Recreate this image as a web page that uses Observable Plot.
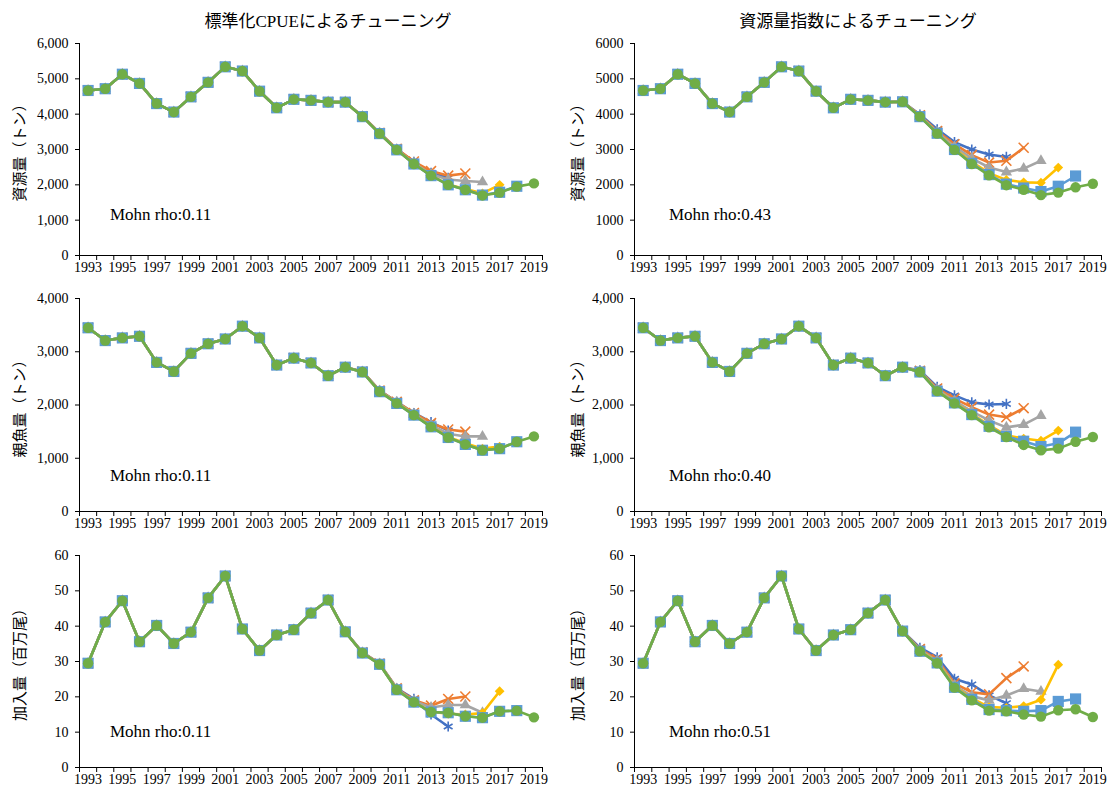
<!DOCTYPE html>
<html><head><meta charset="utf-8">
<script src="https://cdn.jsdelivr.net/npm/d3@7"></script>
<script src="https://cdn.jsdelivr.net/npm/@observablehq/plot@0.6"></script>
<style>
body{margin:0;background:#fff;}
#chart{position:relative;width:1109px;height:789px;font-family:"Liberation Serif","Noto Sans CJK JP",serif;color:#000;overflow:hidden;}
.panel{position:absolute;}
.title{position:absolute;font-size:17px;line-height:20px;white-space:nowrap;transform:translateX(-50%);}
.ylab{position:absolute;font-size:15px;line-height:16px;white-space:nowrap;transform:translate(-50%,-50%) rotate(-90deg);}
.mohn{position:absolute;font-size:17px;line-height:20px;white-space:nowrap;transform:translateY(-50%);}
</style></head>
<body><div id="chart"></div>
<script>
// ---- categories ----
const years = [1993,1994,1995,1996,1997,1998,1999,2000,2001,2002,2003,2004,2005,2006,2007,2008,2009,2010,2011,2012,2013,2014,2015,2016,2017,2018,2019];
const yearLabels = [1993,1995,1997,1999,2001,2003,2005,2007,2009,2011,2013,2015,2017,2019];
const tailStart = 2009;
const runEnds = [2014,2015,2016,2017,2018,2019];
const runColors = ["#4472C4","#ED7D31","#A5A5A5","#FFC000","#5B9BD5","#70AD47"];
const runSymbols = ["asterisk","times","triangle","diamond2","square","circle"];

const titles = ["標準化CPUEによるチューニング","資源量指数によるチューニング"];
const yLabels = ["資源量（トン）","親魚量（トン）","加入量（百万尾）"];
const mohnLeft = ["Mohn rho:0.11","Mohn rho:0.11","Mohn rho:0.11"];
const mohnRight = ["Mohn rho:0.43","Mohn rho:0.40","Mohn rho:0.51"];

const bioTicks = [0,1000,2000,3000,4000,5000,6000];
const ssbTicks = [0,1000,2000,3000,4000];
const recTicks = [0,10,20,30,40,50,60];

// ---- biomass, CPUE tuning ----
const bioCpue2019 = [4670,4720,5130,4870,4300,4060,4490,4900,5340,5220,4650,4180,4420,4390,4340,4340,3930,3450,2990,2590,2260,2000,1860,1700,1780,1950,2040];
const bioCpue2014 = [3940,3470,3010,2650,2340,2200];
const bioCpue2015 = [3940,3470,3020,2660,2390,2260,2320];
const bioCpue2016 = [3930,3460,3000,2620,2300,2150,2110,2080];
const bioCpue2017 = [3930,3450,2990,2600,2270,2010,1880,1760,2000];
const bioCpue2018 = [3930,3450,2990,2590,2260,2000,1860,1710,1790,1960];
// ---- biomass, index tuning ----
const bioIdx2019 = [4670,4720,5130,4870,4300,4060,4490,4900,5340,5220,4650,4180,4420,4390,4340,4350,3930,3450,2990,2590,2270,1990,1860,1710,1780,1930,2030];
const bioIdx2014 = [3990,3570,3210,3000,2860,2790];
const bioIdx2015 = [3970,3520,3150,2840,2630,2680,3050];
const bioIdx2016 = [3950,3490,3080,2750,2490,2360,2460,2680];
const bioIdx2017 = [3940,3470,3020,2650,2330,2140,2070,2060,2490];
const bioIdx2018 = [3930,3460,3000,2610,2290,2020,1910,1810,1960,2250];
// ---- SSB, CPUE tuning ----
const ssbCpue2019 = [3450,3210,3260,3290,2800,2630,2970,3150,3240,3480,3260,2750,2880,2790,2550,2710,2620,2250,2030,1810,1590,1390,1260,1150,1180,1310,1410];
const ssbCpue2014 = [2630,2270,2060,1850,1680,1520];
const ssbCpue2015 = [2630,2270,2060,1850,1660,1540,1500];
const ssbCpue2016 = [2620,2260,2050,1830,1620,1460,1410,1410];
const ssbCpue2017 = [2620,2250,2040,1820,1600,1400,1280,1180,1220];
const ssbCpue2018 = [2620,2250,2030,1810,1590,1390,1260,1150,1180,1310];
// ---- SSB, index tuning ----
const ssbIdx2019 = [3450,3210,3260,3290,2800,2630,2970,3150,3240,3480,3260,2750,2880,2790,2550,2710,2620,2260,2030,1810,1580,1400,1250,1150,1180,1310,1400];
const ssbIdx2014 = [2650,2340,2180,2050,2010,2020];
const ssbIdx2015 = [2640,2310,2120,1960,1820,1770,1940];
const ssbIdx2016 = [2630,2290,2080,1880,1710,1580,1630,1800];
const ssbIdx2017 = [2620,2270,2050,1840,1620,1430,1370,1330,1520];
const ssbIdx2018 = [2620,2260,2040,1820,1600,1410,1320,1220,1280,1490];
// ---- recruitment, CPUE tuning ----
const recCpue2019 = [29.5,41.2,47.2,35.6,40.2,35.1,38.3,48.0,54.2,39.2,33.1,37.5,39.0,43.7,47.4,38.4,32.4,29.2,22.0,18.5,15.7,15.5,14.5,14.1,15.9,16.1,14.2];
const recCpue2014 = [32.6,29.4,22.4,19.4,15.0,11.6];
const recCpue2015 = [32.6,29.4,22.4,19.0,17.5,19.4,20.1];
const recCpue2016 = [32.5,29.3,22.2,18.8,17.0,17.7,17.7,15.5];
const recCpue2017 = [32.4,29.2,22.0,18.6,15.8,15.2,15.0,15.4,21.6];
const recCpue2018 = [32.4,29.2,22.0,18.5,15.7,15.5,14.5,14.1,15.9,16.1];
// ---- recruitment, index tuning ----
const recIdx2019 = [29.5,41.2,47.2,35.6,40.2,35.1,38.3,48.0,54.2,39.2,33.1,37.5,39.0,43.7,47.4,38.6,32.9,29.5,22.6,19.0,16.1,15.9,15.0,14.4,16.2,16.5,14.3];
const recIdx2014 = [33.9,31.2,25.1,23.5,20.4,18.2];
const recIdx2015 = [33.5,30.6,23.8,21.3,20.7,25.3,28.6];
const recIdx2016 = [33.2,30.2,23.2,20.2,19.0,20.4,22.3,21.5];
const recIdx2017 = [33.0,29.9,22.9,19.6,17.1,16.9,17.4,19.2,29.1];
const recIdx2018 = [32.9,29.6,22.7,19.3,16.4,16.1,15.9,16.1,18.7,19.4];

const panels = [
  {col:0,row:0,full:bioCpue2019,tails:[bioCpue2014,bioCpue2015,bioCpue2016,bioCpue2017,bioCpue2018],ticks:bioTicks,fmt:d3.format(",")},
  {col:1,row:0,full:bioIdx2019,tails:[bioIdx2014,bioIdx2015,bioIdx2016,bioIdx2017,bioIdx2018],ticks:bioTicks,fmt:d3.format("d")},
  {col:0,row:1,full:ssbCpue2019,tails:[ssbCpue2014,ssbCpue2015,ssbCpue2016,ssbCpue2017,ssbCpue2018],ticks:ssbTicks,fmt:d3.format(",")},
  {col:1,row:1,full:ssbIdx2019,tails:[ssbIdx2014,ssbIdx2015,ssbIdx2016,ssbIdx2017,ssbIdx2018],ticks:ssbTicks,fmt:d3.format(",")},
  {col:0,row:2,full:recCpue2019,tails:[recCpue2014,recCpue2015,recCpue2016,recCpue2017,recCpue2018],ticks:recTicks,fmt:d3.format("d")},
  {col:1,row:2,full:recIdx2019,tails:[recIdx2014,recIdx2015,recIdx2016,recIdx2017,recIdx2018],ticks:recTicks,fmt:d3.format("d")}
];

// ---- layout ----
const colLeft = [0,555], colWidth = [555,554], colMR = [13,8];
const rowTop = [33,288,545], rowPlotH = [212,213,212], rowMB = [33,32,22];
const MT = 10, ML = 79;
const boundaries = years.map(y => y - 0.5).concat([years[years.length-1] + 0.5]);
const symbolR = {asterisk:4.8, times:4.6, triangle:4.2, diamond2:4.4, square:6.3, circle:5.2};

function runRows(p, k) {
  const end = runEnds[k];
  return years.filter(y => y <= end).map((y, i) => ({
    year: y,
    value: (k === runEnds.length - 1 || y < tailStart) ? p.full[i] : p.tails[k][y - tailStart]
  }));
}

const chart = document.getElementById("chart");
for (const p of panels) {
  const marks = [];
  runEnds.forEach((end, k) => {
    const data = runRows(p, k);
    const sym = runSymbols[k];
    const outline = (sym === "asterisk" || sym === "times");
    marks.push(Plot.line(data, {x:"year", y:"value", stroke: runColors[k], strokeWidth: 2.6}));
    marks.push(Plot.dot(data, {x:"year", y:"value", symbol: sym, r: symbolR[sym],
      fill: outline ? "none" : runColors[k], stroke: outline ? runColors[k] : "none", strokeWidth: outline ? 1.6 : 0}));
  });
  marks.push(Plot.ruleY([p.ticks[0]], {stroke:"#000", strokeWidth:1}));
  marks.push(Plot.ruleX([boundaries[0]], {stroke:"#000", strokeWidth:1}));
  marks.push(Plot.axisX(boundaries, {tickSize:5, tickFormat: () => "", label:null, stroke:"#000"}));
  marks.push(Plot.axisX(yearLabels, {tickSize:0, tickPadding:7, tickFormat: d => String(d), label:null, fontSize:14, fill:"#000"}));
  marks.push(Plot.axisY(p.ticks, {tickSize:4, tickPadding:7, tickFormat: p.fmt, label:null, fontSize:14, fill:"#000", stroke:"#000"}));
  const h = MT + rowPlotH[p.row] + rowMB[p.row];
  const svg = Plot.plot({
    width: colWidth[p.col], height: h,
    marginLeft: ML, marginRight: colMR[p.col], marginTop: MT, marginBottom: rowMB[p.row],
    style: {fontFamily: '"Liberation Serif","Noto Sans CJK JP",serif', fontSize: "14px", color: "#000", background: "transparent"},
    x: {domain: [boundaries[0], boundaries[boundaries.length-1]]},
    y: {domain: [p.ticks[0], p.ticks[p.ticks.length-1]]},
    marks
  });
  svg.classList.add("panel");
  svg.style.left = colLeft[p.col] + "px";
  svg.style.top = rowTop[p.row] + "px";
  chart.appendChild(svg);

  const yl = document.createElement("div");
  yl.className = "ylab";
  yl.textContent = yLabels[p.row];
  yl.style.left = (colLeft[p.col] + (p.col ? 23 : 20)) + "px";
  yl.style.top = (rowTop[p.row] + MT + rowPlotH[p.row] / 2) + "px";
  chart.appendChild(yl);

  const mo = document.createElement("div");
  mo.className = "mohn";
  mo.textContent = (p.col ? mohnRight : mohnLeft)[p.row];
  mo.style.left = (colLeft[p.col] + (p.col ? 114 : 110)) + "px";
  mo.style.top = (rowTop[p.row] + MT + rowPlotH[p.row] - (p.row === 0 ? 40 : 35)) + "px";
  chart.appendChild(mo);
}
[328, 858].forEach((cx, i) => {
  const t = document.createElement("div");
  t.className = "title";
  t.textContent = titles[i];
  t.style.left = cx + "px";
  t.style.top = "12px";
  chart.appendChild(t);
});
</script>
</body></html>
